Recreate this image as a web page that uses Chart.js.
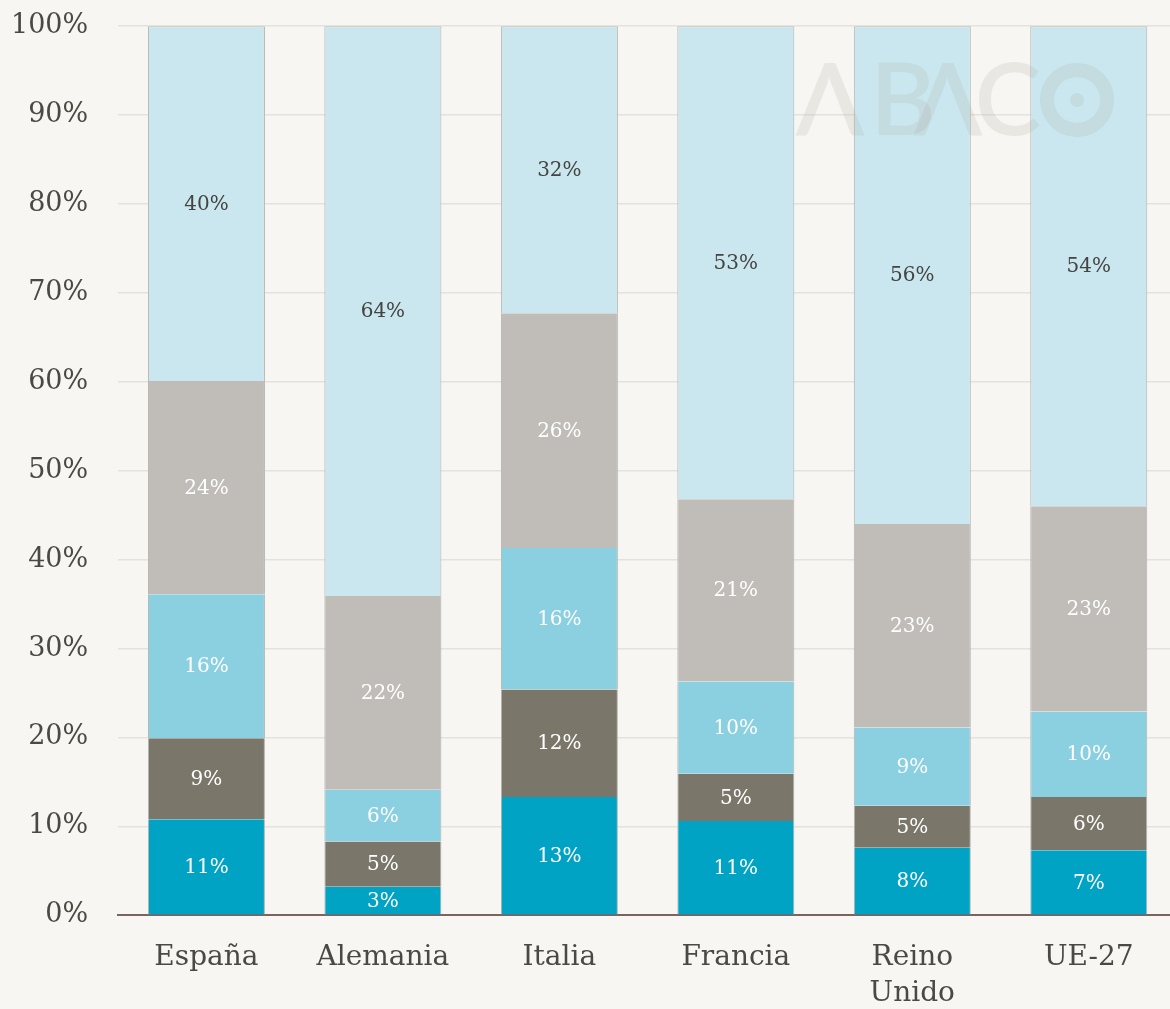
<!DOCTYPE html>
<html>
<head>
<meta charset="utf-8">
<script src="https://cdn.jsdelivr.net/npm/chart.js@4/dist/chart.umd.min.js"></script>
<style>
  html, body { margin: 0; padding: 0; background: #f7f6f2; overflow: hidden; }
  #wrap { position: relative; width: 1177px; height: 1009px; }
</style>
</head>
<body>
<div id="wrap"><canvas id="chart"></canvas></div>
<script>
const categories = ["España", "Alemania", "Italia", "Francia", ["Reino", "Unido"], "UE-27"];
const serie1 = [10.8, 3.2, 13.3, 10.6, 7.6, 7.3];
const serie2 = [9.1, 5.1, 12.1, 5.3, 4.7, 6.0];
const serie3 = [16.2, 5.8, 15.9, 10.4, 8.8, 9.6];
const serie4 = [24.0, 21.8, 26.4, 20.5, 22.9, 23.1];
const serie5 = [39.9, 64.1, 32.3, 53.2, 56.0, 54.0];
const yTicks = [0, 10, 20, 30, 40, 50, 60, 70, 80, 90, 100];

const colors = ["#00a3c4", "#7a776a", "#8bd0e1", "#c0bdb8", "#cae7ef"];
const labelColors = ["#ffffff", "#ffffff", "#ffffff", "#ffffff", "#444440"];
const serif = "'DejaVu Serif', 'Liberation Serif', serif";

// etiquetas dentro de cada tramo
const segLabels = {
  id: "segLabels",
  afterDatasetsDraw(chart) {
    const ctx = chart.ctx;
    ctx.save();
    ctx.font = "20px " + serif;
    ctx.textAlign = "center";
    ctx.textBaseline = "middle";
    chart.data.datasets.forEach((ds, i) => {
      const meta = chart.getDatasetMeta(i);
      meta.data.forEach((bar, j) => {
        const y = (bar.y + bar.base) / 2;
        ctx.fillStyle = labelColors[i];
        ctx.fillText(Math.round(ds.data[j]) + "%", bar.x, y + 1);
      });
    });
    ctx.restore();
  }
};

// marca de agua
const watermark = {
  id: "watermark",
  afterDatasetsDraw(chart) {
    const ctx = chart.ctx;
    ctx.save();
    const c = "rgba(165,160,150,0.17)";
    ctx.fillStyle = c;
    ctx.strokeStyle = c;
    ctx.font = "600 100px Lato, sans-serif";
    ctx.textBaseline = "alphabetic";
    ctx.textAlign = "center";
    ctx.fillText("Λ", 830, 135);
    ctx.fillText("B", 903, 135);
    ctx.fillText("Λ", 948, 135);
    ctx.fillText("C", 1008, 135);
    ctx.lineWidth = 14;
    ctx.beginPath();
    ctx.arc(1077, 100, 30, 0, Math.PI * 2);
    ctx.stroke();
    ctx.beginPath();
    ctx.arc(1077, 100, 7, 0, Math.PI * 2);
    ctx.fill();
    ctx.restore();
  }
};

const series = [serie1, serie2, serie3, serie4, serie5];
const datasets = series.map((data, i) => ({
  label: "Serie " + (i + 1),
  data: data,
  backgroundColor: colors[i],
  borderColor: "#b3b1ab",
  borderWidth: i === 4 ? { left: 1, right: 1, top: 1, bottom: 0 } : { left: 1, right: 1, top: 0, bottom: 0 },
  borderSkipped: false,
  barPercentage: 0.663,
  categoryPercentage: 1
}));

new Chart(document.getElementById("chart"), {
  type: "bar",
  data: { labels: categories, datasets: datasets },
  options: {
    responsive: true,
    maintainAspectRatio: false,
    animation: false,
    layout: { padding: { top: 0, right: 0, left: 1, bottom: -27 } },
    plugins: {
      legend: { display: false },
      tooltip: { enabled: false }
    },
    scales: {
      x: {
        stacked: true,
        grid: { display: false, drawTicks: false },
        border: { display: true, color: "#7d6262", width: 2 },
        ticks: {
          color: "#4a4a44",
          font: { family: serif, size: 28, lineHeight: 1.3 },
          padding: 24,
          maxRotation: 0
        }
      },
      y: {
        stacked: true,
        min: 0,
        max: 100,
        afterBuildTicks(axis) { axis.ticks = yTicks.map(v => ({ value: v })); },
        grid: { color: "#e4e2dd", lineWidth: 1.5, drawTicks: true, tickLength: 20, tickColor: "rgba(0,0,0,0)" },
        border: { display: false },
        ticks: {
          color: "#4a4a44",
          font: { family: serif, size: 27 },
          padding: 10,
          callback: v => v + "%"
        }
      }
    }
  },
  plugins: [segLabels, watermark]
});
</script>
</body>
</html>
